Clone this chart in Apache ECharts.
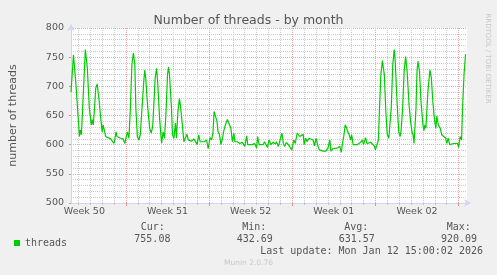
<!DOCTYPE html>
<html><head><meta charset="utf-8">
<script src="https://cdn.jsdelivr.net/npm/echarts@6/dist/echarts.min.js"></script>
<style>html,body{margin:0;padding:0;background:#F0F0F0}#c{width:497px;height:275px}</style>
</head><body><div id="c"></div>
<script>
// hours since Mon 2025-12-08 00:00
const hours = [
  57,62,67,72,74,76,78,86,90,94,
  98,100,102,104,107,110,114,117,120,122,
  124,127,130,137,140,144,146,148,150,157,
  162,166,168,171,174,177,180,183,186,188,
  191,194,197,200,204,206,208,212,216,219,
  222,224,227,230,232,236,240,243,246,249,
  252,254,256,260,262,265,268,270,273,276,
  278,282,285,288,291,294,298,301,305,308,
  312,315,318,322,326,331,334,338,341,344,
  346,349,352,354,357,360,363,366,370,373,
  376,380,383,386,388,393,398,403,408,412,
  414,418,423,428,432,434,437,441,445,448,
  451,454,457,461,465,470,472,476,479,483,
  486,489,492,496,500,503,507,510,514,516,
  519,522,526,528,531,534,538,542,546,549,
  552,556,559,562,566,570,572,576,580,582,
  586,590,594,597,600,603,606,608,611,614,
  616,619,622,624,627,631,635,638,642,646,
  648,652,655,659,663,666,670,672,675,678,
  680,683,686,690,693,696,699,702,704,707,
  710,712,715,719,722,724,727,730,733,736,
  740,743,746,748,750,754,756,758,761,764,
  768,770,772,774,778,782,785,788,791,794,
  796,799,803,806,810,814,816,819,822,826,
  830,834,838,840,843,846,848,851,854
];
const threads = [
  690,754,703,640,614,625,617,763,731,663,
  634,643,634,657,697,704,674,645,622,634,
  637,614,611,610,610,602,611,622,614,611,
  610,602,611,622,611,663,737,757,737,663,
  614,608,617,657,708,728,714,663,628,620,
  631,663,714,731,708,645,602,622,611,657,
  720,733,720,663,617,611,637,611,657,679,
  668,634,605,602,618,608,610,606,610,606,
  600,617,605,608,605,608,593,612,608,622,
  657,658,640,622,617,600,611,625,637,643,
  640,628,605,620,605,605,602,604,597,615,
  600,601,600,602,594,614,600,602,600,605,
  608,595,608,600,604,601,605,597,600,620,
  602,597,604,600,602,591,608,602,620,617,
  614,611,618,600,611,605,611,608,608,598,
  611,597,591,594,589,589,589,594,608,589,
  593,595,594,591,597,587,605,614,634,628,
  622,617,608,617,600,602,600,602,604,608,
  600,612,602,602,604,601,597,591,600,608,
  657,720,744,720,657,617,611,614,663,737,
  763,743,685,622,614,625,663,726,751,726,
  668,640,622,617,602,663,726,743,726,674,
  634,624,634,628,691,728,714,674,645,628,
  649,634,628,617,616,611,602,611,600,600,
  602,604,602,595,614,608,663,720,755
];
const weekStartHours = [168, 336, 504, 672, 840];
const weekLabelHours = [84, 252, 420, 588, 756];
const weekLabels = ['Week 50', 'Week 51', 'Week 52', 'Week 01', 'Week 02'];
const yMin = 500, yMax = 800, yStep = 50;
const xMin = 57, xMax = 857;
const seriesName = 'threads';
const statNames = ['Cur:', 'Min:', 'Avg:', 'Max:'];
const statValues = ['755.08', '432.69', '631.57', '920.09'];
const titleText = 'Number of threads - by month';
const yName = 'number of threads';
const lastUpdate = 'Last update: Mon Jan 12 15:00:02 2026';
const footerText = 'Munin 2.0.76';
const sideText = 'RRDTOOL / TOBI OETIKER';

const dayTicks = [];
for (let h = Math.ceil(xMin / 24) * 24; h <= xMax; h += 24) dayTicks.push(h);
const seriesData = hours.map((h, i) => [h, threads[i]]);

const FONT = 'DejaVu Sans';
const MONO = 'DejaVu Sans Mono';
const TXT = '#555';
const MINOR = '#cccccc';
const MAJOR = '#f2a2a2';
const AXIS = '#CFD6F8';

const chart = echarts.init(document.getElementById('c'), null, {renderer: 'canvas'});
const statLabelX = [140.7, 242.3, 344.3, 446.7];
const statValueX = [134.3, 236.7, 338.7, 441];
const graphics = [];
statNames.forEach((s, i) => {
  graphics.push({type: 'text', left: statLabelX[i], top: 222, style: {text: s, font: '10px ' + MONO, fill: TXT}});
  graphics.push({type: 'text', left: statValueX[i], top: 234, style: {text: statValues[i], font: '10px ' + MONO, fill: TXT}});
});
graphics.push({type: 'text', right: 14, top: 246, style: {text: lastUpdate, font: '10px ' + MONO, fill: TXT}});
graphics.push({type: 'text', left: 'center', top: 259.5, style: {text: footerText, font: '7.5px ' + FONT, fill: '#c8c8c8'}});
graphics.push({type: 'text', x: 488, y: 58.5, rotation: -Math.PI / 2, style: {text: sideText, font: '7px ' + FONT, fill: '#c8c8c8', align: 'center', verticalAlign: 'middle'}});

chart.setOption({
  animation: false,
  backgroundColor: '#F0F0F0',
  title: {text: titleText, left: 'center', top: 9, textStyle: {fontFamily: FONT, fontSize: 12.5, fontWeight: 'normal', color: TXT}},
  grid: {left: 67, top: 28, width: 400, height: 175, show: true, backgroundColor: '#FFFFFF', borderWidth: 0},
  legend: {data: [seriesName], left: 9, top: 233, icon: 'rect', itemWidth: 6, itemHeight: 6, itemGap: 5,
    textStyle: {fontFamily: MONO, fontSize: 10, color: TXT}},
  xAxis: [
    {type: 'value', min: xMin, max: xMax, position: 'bottom',
      axisLine: {show: false},
      axisTick: {show: true, customValues: dayTicks, length: 2, lineStyle: {color: '#c4c4c4'}},
      axisLabel: {show: false},
      splitLine: {show: true, lineStyle: {color: MINOR, type: [1, 1], width: 1}}},
    {type: 'value', min: xMin, max: xMax, position: 'bottom',
      axisLine: {show: true, lineStyle: {color: AXIS, width: 1}, symbol: ['none', 'arrow'], symbolSize: [6, 7], symbolOffset: [0, 4]},
      axisTick: {show: true, customValues: weekStartHours, length: 3, lineStyle: {color: '#f08a8a'}},
      axisLabel: {show: true, customValues: weekLabelHours, formatter: v => weekLabels[weekLabelHours.indexOf(v)] || '',
        color: TXT, fontFamily: FONT, fontSize: 9.5, margin: 4},
      splitLine: {show: true, lineStyle: {color: MAJOR, type: [1, 1], width: 1}}}
  ],
  yAxis: {type: 'value', min: yMin, max: yMax, interval: yStep,
    name: yName, nameLocation: 'middle', nameGap: 52,
    nameTextStyle: {fontFamily: FONT, fontSize: 11, color: TXT},
    axisLine: {show: true, lineStyle: {color: AXIS, width: 1}, symbol: ['none', 'arrow'], symbolSize: [6, 7], symbolOffset: [0, 4]},
    axisTick: {show: true, length: 2, lineStyle: {color: '#f08a8a'}},
    axisLabel: {color: TXT, fontFamily: FONT, fontSize: 9.5, margin: 7},
    splitLine: {show: true, lineStyle: {color: MAJOR, type: [1, 1], width: 1}},
    minorTick: {show: false, splitNumber: 5},
    minorSplitLine: {show: true, lineStyle: {color: MINOR, type: [1, 1], width: 1}}},
  graphic: graphics,
  series: [{name: seriesName, type: 'line', xAxisIndex: 1, data: seriesData, showSymbol: false, symbol: 'none',
    lineStyle: {color: '#00CC00', width: 1.2}, itemStyle: {color: '#00CC00'}}]
});
</script></body></html>
